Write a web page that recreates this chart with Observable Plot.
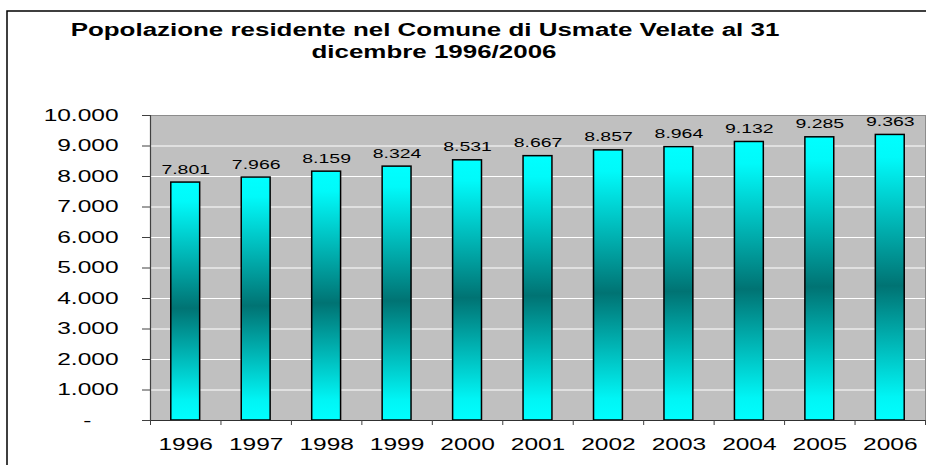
<!DOCTYPE html>
<html><head><meta charset="utf-8">
<script src="https://cdn.jsdelivr.net/npm/d3@7"></script>
<script src="https://cdn.jsdelivr.net/npm/@observablehq/plot@0.6"></script>
<style>
html,body{margin:0;padding:0;background:#fff;overflow:hidden}
#chart{position:relative;width:926px;height:465px}
</style></head><body><div id="chart"></div>
<script>
const years = [1996,1997,1998,1999,2000,2001,2002,2003,2004,2005,2006];
const population = [7801,7966,8159,8324,8531,8667,8857,8964,9132,9285,9363];
const yTicks = [0,1000,2000,3000,4000,5000,6000,7000,8000,9000,10000];
const titleLines = ["Popolazione residente nel Comune di Usmate Velate al 31", "dicembre 1996/2006"];

const data = years.map((year, i) => ({year, value: population[i]}));
const it = d3.formatLocale({decimal: ",", thousands: ".", grouping: [3], currency: ["€", ""]});
const fmt = it.format(",");
const halfBar = 0.205;
const boundaries = d3.range(years[0] - 0.5, years[years.length - 1] + 1, 1);

const svg = Plot.plot({
  width: 926,
  height: 465,
  marginLeft: 150,
  marginRight: 1,
  marginTop: 115,
  marginBottom: 45,
  style: {fontFamily: "'Liberation Sans', Arial, sans-serif", background: "transparent", overflow: "hidden", color: "#000"},
  x: {domain: [years[0] - 0.5, years[years.length - 1] + 0.5], label: null},
  y: {domain: [0, 10000], label: null},
  marks: [
    Plot.frame({fill: "#c0c0c0", stroke: "#8c8c8c"}),
    Plot.ruleY(yTicks.slice(1, -1), {stroke: "#ffffff", strokeWidth: 1.2}),
    Plot.rectY(data, {x1: d => d.year - halfBar, x2: d => d.year + halfBar, y: "value", fill: "url(#barGrad)", stroke: "#000", strokeWidth: 1.5}),
    Plot.ruleX([years[0] - 0.5], {stroke: "#404040", strokeWidth: 1.2}),
    Plot.ruleY([0], {stroke: "#303030", strokeWidth: 1.2}),
    Plot.axisY({ticks: yTicks, label: null, tickSize: 8, tickPadding: 24, fontSize: 17, stroke: "#404040",
      tickFormat: d => d === 0 ? "-\u00a0\u00a0\u00a0\u00a0" : fmt(d)}),
    Plot.axisX({ticks: boundaries, label: null, tickSize: 5, tickFormat: () => "", stroke: "#404040"}),
    Plot.axisX({ticks: years, label: null, tickSize: 0, tickPadding: 17, fontSize: 17, tickFormat: d => String(d)}),
    Plot.text(data, {x: "year", y: "value", text: d => fmt(d.value), dy: -9, lineAnchor: "bottom", fontSize: 13.5, fill: "#000"})
  ]
});

document.getElementById("chart").append(svg);
const sel = d3.select(svg);
const defs = sel.insert("defs", ":first-child");
const g = defs.append("linearGradient").attr("id", "barGrad").attr("x1", 0).attr("y1", 0).attr("x2", 0).attr("y2", 1);
g.append("stop").attr("offset", "0").attr("stop-color", "#00ffff");
g.append("stop").attr("offset", "0.08").attr("stop-color", "#00fafa");
g.append("stop").attr("offset", "0.53").attr("stop-color", "#007373");
g.append("stop").attr("offset", "0.92").attr("stop-color", "#00f5f5");
g.append("stop").attr("offset", "1").attr("stop-color", "#00ffff");

sel.insert("rect", "defs + *").attr("x", 7).attr("y", 11).attr("width", 1000).attr("height", 1000)
  .attr("fill", "none").attr("stroke", "#000").attr("stroke-width", 1.5);

const titlePos = [[425, 36], [434, 58]];
titleLines.forEach((t, i) => {
  sel.append("text").attr("x", titlePos[i][0]).attr("y", titlePos[i][1])
    .attr("text-anchor", "middle").attr("font-weight", "bold").attr("font-size", 18)
    .attr("fill", "#000").text(t);
});

const S = 1.44;
sel.selectAll("text").each(function() {
  const len = this.getComputedTextLength();
  if (len > 0) {
    this.setAttribute("textLength", len * S);
    this.setAttribute("lengthAdjust", "spacingAndGlyphs");
  }
});
</script></body></html>
